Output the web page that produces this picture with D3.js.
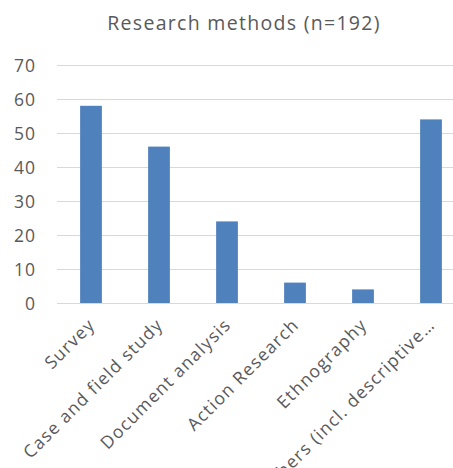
<!DOCTYPE html>
<html>
<head>
<meta charset="utf-8">
<script src="https://cdn.jsdelivr.net/npm/d3@7"></script>
<style>
  html, body { margin: 0; padding: 0; background: #fff; }
  svg { display: block; }
  svg text { font-family: "Open Sans", sans-serif; }
</style>
</head>
<body>
<div id="chart"></div>
<script>
// Chart content
const chartTitle = "Research methods (n=192)";
const categories = [
  "Survey",
  "Case and field study",
  "Document analysis",
  "Action Research",
  "Ethnography",
  "Others (incl. descriptive\u2026"
];
const counts = [58, 46, 24, 6, 4, 54];
const yTicks = [0, 10, 20, 30, 40, 50, 60, 70];

const width = 453, height = 468;
const margin = { top: 65, right: -12, bottom: 165, left: 57 };
const textColor = "#595959";

const svg = d3.select("#chart").append("svg")
  .attr("width", width)
  .attr("height", height);

const x = d3.scaleBand()
  .domain(categories)
  .range([margin.left, width - margin.right])
  .paddingInner(0.68)
  .paddingOuter(0.34);

const y = d3.scaleLinear()
  .domain([0, 70])
  .range([height - margin.bottom, margin.top]);

// Title
svg.append("text")
  .attr("x", 244)
  .attr("y", 30)
  .attr("text-anchor", "middle")
  .attr("fill", textColor)
  .style("font-size", "19.5px")
  .style("letter-spacing", "1.3px")
  .text(chartTitle);

// Horizontal gridlines and value labels
const yAxis = d3.axisLeft(y)
  .tickValues(yTicks)
  .tickSize(-(width - margin.right - margin.left))
  .tickPadding(21)
  .tickFormat(d3.format("d"));

const gy = svg.append("g")
  .attr("transform", `translate(${margin.left},0)`)
  .call(yAxis);
gy.select(".domain").remove();
gy.selectAll(".tick line").attr("stroke", "#d9d9d9").attr("stroke-width", 1);
gy.selectAll(".tick text")
  .attr("fill", textColor)
  .style("font-size", "17.5px")
  .style("letter-spacing", "1px")
  .attr("dy", "0.35em");

// Bars
svg.append("g")
  .selectAll("rect")
  .data(categories)
  .join("rect")
  .attr("x", d => x(d))
  .attr("width", x.bandwidth())
  .attr("y", (d, i) => y(counts[i]))
  .attr("height", (d, i) => y(0) - y(counts[i]))
  .attr("fill", "#4f81bd");

// Category labels, rotated
const xAxis = d3.axisBottom(x).tickSize(0).tickPadding(0);
const gx = svg.append("g")
  .attr("transform", `translate(0,${y(0)})`)
  .call(xAxis);
gx.select(".domain").remove();
gx.selectAll(".tick text")
  .attr("fill", textColor)
  .style("font-size", "17.5px")
  .style("letter-spacing", "1.25px")
  .attr("text-anchor", "end")
  .attr("dy", null)
  .attr("y", null)
  .attr("transform", "translate(5,23) rotate(-45)");
</script>
</body>
</html>
